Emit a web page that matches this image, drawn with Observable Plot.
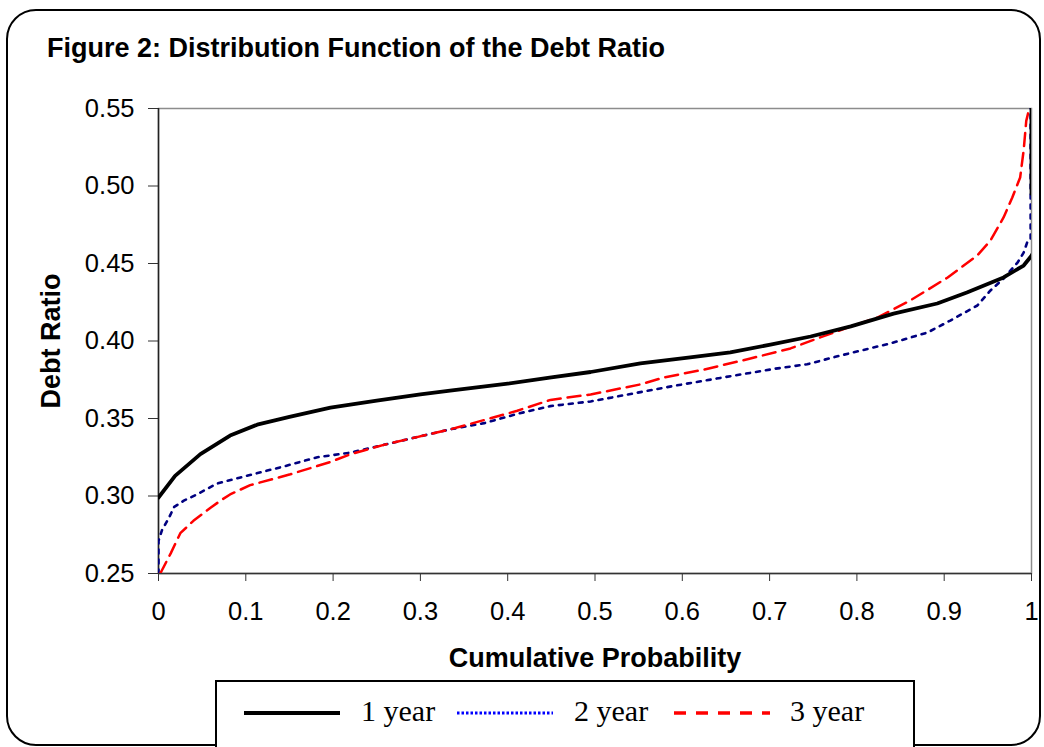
<!DOCTYPE html>
<html>
<head>
<meta charset="utf-8">
<script src="https://cdn.jsdelivr.net/npm/d3@7"></script>
<script src="https://cdn.jsdelivr.net/npm/@observablehq/plot@0.6"></script>
<style>
  html, body { margin: 0; padding: 0; background: #fff; }
  #wrap { position: relative; width: 1044px; height: 747px; overflow: hidden; font-family: "Liberation Sans", Arial, sans-serif; }
  #border { position: absolute; left: 6px; top: 9px; width: 1031px; height: 733px; border: 2px solid #000; border-radius: 30px; }
  #title { position: absolute; left: 47px; top: 35px; font-size: 27px; line-height: 27px; font-weight: bold; white-space: nowrap; }
  #chart { position: absolute; left: 0; top: 80px; }
  #legend { position: absolute; left: 215px; top: 680px; width: 696px; height: 66px; border: 2px solid #000; background: #fff; font-family: "Liberation Serif", "Times New Roman", serif; font-size: 30px; }
  .sw { position: absolute; top: 26px; }
  .lt { position: absolute; top: 14px; line-height: 30px; white-space: nowrap; }
  [aria-label="x-axis label"], [aria-label="y-axis label"] { font-weight: bold; font-size: 27px; }
</style>
</head>
<body>
<div id="wrap">
  <div id="border"></div>
  <div id="title">Figure 2: Distribution Function of the Debt Ratio</div>
  <div id="chart"></div>
  <div id="legend"></div>
</div>
<script>
// Cumulative probability (x) and debt ratio (y) for each horizon
const p1 = [0, 0.019, 0.048, 0.082, 0.113, 0.15, 0.197, 0.25, 0.3, 0.334, 0.4, 0.45, 0.495, 0.552, 0.609, 0.655, 0.701, 0.747, 0.793, 0.842, 0.892, 0.926, 0.968, 0.991, 1, 1.01, 1.01, 1, 1];
const v1 = [0.299, 0.313, 0.327, 0.339, 0.346, 0.351, 0.357, 0.3615, 0.3655, 0.368, 0.3725, 0.3765, 0.380, 0.3855, 0.3894, 0.3926, 0.3977, 0.4029, 0.4094, 0.4177, 0.4242, 0.4313, 0.441, 0.4487, 0.455, 0.465, 0.49, 0.495, 0.55];

const p2 = [0, 0, 0.004, 0.012, 0.018, 0.029, 0.044, 0.067, 0.094, 0.143, 0.182, 0.22, 0.258, 0.296, 0.334, 0.373, 0.411, 0.449, 0.495, 0.552, 0.59, 0.647, 0.705, 0.743, 0.781, 0.819, 0.838, 0.881, 0.907, 0.938, 0.953, 0.968, 0.984, 0.991, 0.995, 0.999, 0.999];
const v2 = [0.25, 0.271, 0.278, 0.286, 0.293, 0.297, 0.301, 0.308, 0.312, 0.319, 0.325, 0.328, 0.333, 0.338, 0.343, 0.347, 0.353, 0.358, 0.361, 0.367, 0.371, 0.3765, 0.382, 0.385, 0.3906, 0.3958, 0.3984, 0.4055, 0.4132, 0.4229, 0.4326, 0.4403, 0.4506, 0.457, 0.4635, 0.465, 0.55];

const p3 = [0.002, 0.014, 0.025, 0.04, 0.06, 0.071, 0.082, 0.105, 0.151, 0.174, 0.197, 0.22, 0.258, 0.296, 0.334, 0.373, 0.411, 0.449, 0.495, 0.552, 0.579, 0.625, 0.678, 0.724, 0.758, 0.793, 0.824, 0.861, 0.904, 0.938, 0.953, 0.968, 0.978, 0.987, 0.991, 0.994, 0.997];
const v3 = [0.25, 0.263, 0.276, 0.284, 0.2926, 0.297, 0.301, 0.307, 0.314, 0.318, 0.322, 0.327, 0.333, 0.338, 0.343, 0.349, 0.355, 0.362, 0.3655, 0.372, 0.3765, 0.3816, 0.3887, 0.3952, 0.4023, 0.4094, 0.4152, 0.4261, 0.441, 0.4552, 0.4648, 0.4797, 0.4926, 0.5055, 0.523, 0.542, 0.549];

const seriesNames = ["1 year", "2 year", "3 year"];
const xTicks = [0, 0.1, 0.2, 0.3, 0.4, 0.5, 0.6, 0.7, 0.8, 0.9, 1];
const yTicks = [0.25, 0.30, 0.35, 0.40, 0.45, 0.50, 0.55];

const toRows = (ps, vs) => ps.map((p, i) => ({p, v: vs[i]}));
const d1 = toRows(p1, v1), d2 = toRows(p2, v2), d3rows = toRows(p3, v3);

const chart = Plot.plot({
  width: 1044,
  height: 595,
  marginLeft: 158,
  marginRight: 13,
  marginTop: 28,
  marginBottom: 102,
  x: {domain: [0, 1]},
  y: {domain: [0.25, 0.55]},
  style: {fontFamily: "'Liberation Sans', Arial, sans-serif", fontSize: "25.5px", color: "#000", background: "transparent", overflow: "visible"},
  marks: [
    Plot.frame({stroke: "#8c8c8c", strokeWidth: 1.5}),
    Plot.axisX({ticks: xTicks, tickSize: 8, tickPadding: 20, tickFormat: d => String(d), stroke: "#333",
      label: "Cumulative Probability", labelAnchor: "center", labelOffset: 93, labelArrow: "none"}),
    Plot.axisY({ticks: yTicks, tickSize: 10, tickPadding: 14, tickFormat: d3.format(".2f"), stroke: "#333",
      label: "Debt Ratio", labelAnchor: "center", labelOffset: 118, labelArrow: "none"}),
    Plot.ruleX([0], {stroke: "#222", strokeWidth: 1.5}),
    Plot.ruleY([0.25], {stroke: "#333", strokeWidth: 1.5}),
    Plot.line(d2, {x: "p", y: "v", stroke: "#000080", strokeWidth: 2.6, strokeDasharray: "4,6", clip: true}),
    Plot.line(d3rows, {x: "p", y: "v", stroke: "#ff0000", strokeWidth: 2.5, strokeDasharray: "13,7", clip: true}),
    Plot.line(d1, {x: "p", y: "v", stroke: "#000", strokeWidth: 3.8, clip: true})
  ]
});
document.getElementById("chart").appendChild(chart);

// Legend
const legendItems = [
  {name: seriesNames[0], color: "#000", dash: null, width: 4, sx: 27, tx: 144},
  {name: seriesNames[1], color: "#0000ff", dash: "2.5,2", width: 3, sx: 240, tx: 357},
  {name: seriesNames[2], color: "#ff0000", dash: "12,10", width: 3.5, sx: 457, tx: 573}
];
const legend = document.getElementById("legend");
for (const it of legendItems) {
  const sw = document.createElementNS("http://www.w3.org/2000/svg", "svg");
  sw.setAttribute("width", 96); sw.setAttribute("height", 10);
  sw.setAttribute("class", "sw");
  sw.style.left = it.sx + "px";
  const ln = document.createElementNS("http://www.w3.org/2000/svg", "line");
  ln.setAttribute("x1", 0); ln.setAttribute("x2", 96); ln.setAttribute("y1", 5); ln.setAttribute("y2", 5);
  ln.setAttribute("stroke", it.color); ln.setAttribute("stroke-width", it.width);
  if (it.dash) ln.setAttribute("stroke-dasharray", it.dash);
  sw.appendChild(ln);
  legend.appendChild(sw);
  const t = document.createElement("span");
  t.className = "lt"; t.style.left = it.tx + "px"; t.textContent = it.name;
  legend.appendChild(t);
}
</script>
</body>
</html>
